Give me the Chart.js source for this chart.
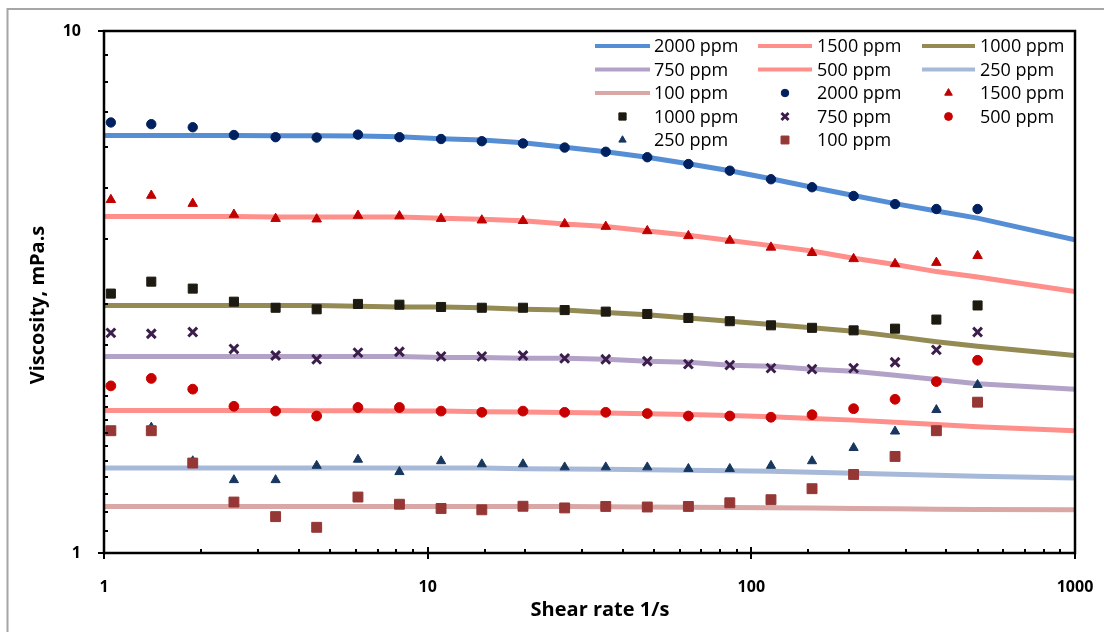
<!DOCTYPE html>
<html>
<head>
<meta charset="utf-8">
<script src="https://cdn.jsdelivr.net/npm/chart.js@4/dist/chart.umd.min.js"></script>
<style>
  html, body { margin: 0; padding: 0; background: #ffffff; }
  #wrap { width: 1104px; height: 632px; position: relative; }
</style>
</head>
<body>
<div id="wrap"><canvas id="c" width="1104" height="632"></canvas></div>
<script>
// ---------- DATA ----------
const seriesNames = ['2000 ppm', '1500 ppm', '1000 ppm', '750 ppm', '500 ppm', '250 ppm', '100 ppm'];

// measured shear rates (1/s)
const shearRate = [1.05, 1.40, 1.88, 2.52, 3.39, 4.54, 6.09, 8.18, 11.0, 14.7, 19.7,
                   26.5, 35.5, 47.7, 63.9, 85.8, 115, 154, 207, 278, 373, 500];
// shear rates of the fitted model curves
const fitRate = [1, 1.05, 1.40, 1.88, 2.52, 3.39, 4.54, 6.09, 8.18, 11.0, 14.7, 19.7,
                 26.5, 35.5, 47.7, 63.9, 85.8, 115, 154, 207, 278, 373, 500, 1000];

// fitted model viscosity (mPa.s)
const fit2000 = [6.31, 6.31, 6.31, 6.31, 6.31, 6.30, 6.30, 6.29, 6.27, 6.22, 6.18, 6.11,
                 5.99, 5.87, 5.73, 5.57, 5.40, 5.21, 5.02, 4.84, 4.67, 4.52, 4.38, 3.98];
const fit1500 = [4.41, 4.41, 4.41, 4.41, 4.41, 4.40, 4.40, 4.40, 4.40, 4.38, 4.36, 4.33,
                 4.27, 4.22, 4.14, 4.06, 3.97, 3.88, 3.79, 3.67, 3.57, 3.46, 3.38, 3.17];
const fit1000 = [2.98, 2.98, 2.98, 2.98, 2.98, 2.98, 2.98, 2.97, 2.96, 2.96, 2.95, 2.93,
                 2.92, 2.89, 2.86, 2.82, 2.78, 2.74, 2.70, 2.66, 2.60, 2.54, 2.49, 2.39];
const fit750  = [2.38, 2.38, 2.38, 2.38, 2.38, 2.38, 2.38, 2.38, 2.38, 2.37, 2.37, 2.36,
                 2.36, 2.35, 2.33, 2.32, 2.29, 2.28, 2.25, 2.23, 2.19, 2.15, 2.11, 2.06];
const fit500  = [1.874, 1.874, 1.874, 1.874, 1.874, 1.874, 1.873, 1.872, 1.871, 1.870, 1.865, 1.863,
                 1.859, 1.855, 1.849, 1.842, 1.834, 1.824, 1.810, 1.797, 1.781, 1.762, 1.746, 1.715];
const fit250  = [1.455, 1.455, 1.455, 1.455, 1.455, 1.455, 1.455, 1.455, 1.455, 1.455, 1.455, 1.450,
                 1.449, 1.447, 1.444, 1.441, 1.437, 1.434, 1.428, 1.422, 1.415, 1.409, 1.403, 1.392];
const fit100  = [1.228, 1.228, 1.228, 1.228, 1.228, 1.228, 1.228, 1.228, 1.228, 1.228, 1.228, 1.228,
                 1.227, 1.226, 1.225, 1.224, 1.222, 1.221, 1.219, 1.217, 1.215, 1.213, 1.212, 1.210];

// measured viscosity (mPa.s)
const meas2000 = [6.68, 6.63, 6.54, 6.32, 6.26, 6.25, 6.33, 6.26, 6.21, 6.15, 6.09,
                  5.98, 5.87, 5.73, 5.56, 5.40, 5.20, 5.02, 4.83, 4.66, 4.56, 4.56];
const meas1500 = [4.75, 4.84, 4.67, 4.45, 4.37, 4.36, 4.43, 4.42, 4.37, 4.34, 4.33,
                  4.27, 4.22, 4.14, 4.05, 3.97, 3.85, 3.76, 3.66, 3.58, 3.60, 3.71];
const meas1000 = [3.14, 3.31, 3.21, 3.03, 2.95, 2.93, 3.00, 2.99, 2.96, 2.95, 2.95,
                  2.92, 2.90, 2.87, 2.82, 2.78, 2.73, 2.70, 2.67, 2.69, 2.80, 2.98];
const meas750  = [2.64, 2.63, 2.65, 2.46, 2.39, 2.35, 2.42, 2.43, 2.38, 2.38, 2.39,
                  2.36, 2.35, 2.33, 2.30, 2.29, 2.26, 2.25, 2.26, 2.32, 2.45, 2.65];
const meas500  = [2.09, 2.16, 2.06, 1.91, 1.87, 1.83, 1.90, 1.90, 1.87, 1.86, 1.87,
                  1.86, 1.86, 1.85, 1.83, 1.83, 1.82, 1.84, 1.89, 1.97, 2.13, 2.34];
const meas250  = [1.71, 1.74, 1.50, 1.38, 1.38, 1.47, 1.51, 1.43, 1.50, 1.48, 1.48,
                  1.46, 1.46, 1.46, 1.45, 1.45, 1.47, 1.50, 1.59, 1.71, 1.88, 2.10];
const meas100  = [1.715, 1.715, 1.487, 1.252, 1.174, 1.120, 1.280, 1.240, 1.217, 1.210, 1.229,
                  1.220, 1.228, 1.225, 1.228, 1.248, 1.265, 1.328, 1.414, 1.531, 1.715, 1.945];

// axis tick labels / titles
const xTickLabels = ['1', '10', '100', '1000'];
const yTickLabels = ['1', '10'];
const xTitle = 'Shear rate 1/s';
const yTitle = 'Viscosity, mPa.s';

// ---------- STYLES ----------
const fitSeries  = [fit2000, fit1500, fit1000, fit750, fit500, fit250, fit100];
const measSeries = [meas2000, meas1500, meas1000, meas750, meas500, meas250, meas100];
const lineColors = ['#558ED5', '#FF8F8A', '#948A54', '#B3A2C7', '#FF8F8A', '#A6B9D9', '#D9A7A6'];
const markStyle = [
  { s: 'circle',   r: 4.7, c: '#002060', bw: 1 },
  { s: 'triangle', r: 5.5, c: '#C00000', bw: 1 },
  { s: 'rect',     r: 6.4, c: '#1D1B11', bw: 1 },
  { s: 'crossRot', r: 6.2, c: '#3B1E4C', bw: 3 },
  { s: 'circle',   r: 4.9, c: '#C80000', bw: 1 },
  { s: 'triangle', r: 5.3, c: '#17375E', bw: 1 },
  { s: 'rect',     r: 7.0, c: '#953735', bw: 1 }
];

const toXY = (xs, ys) => xs.map((x, i) => ({ x: x, y: ys[i] }));

const datasets = [];
seriesNames.forEach((name, i) => {
  datasets.push({
    label: name, kind: 'line',
    data: toXY(fitRate, fitSeries[i]),
    showLine: true, borderColor: lineColors[i], backgroundColor: lineColors[i],
    borderWidth: 5, pointRadius: 0, pointHoverRadius: 0, tension: 0, fill: false,
    borderCapStyle: 'butt', order: 30 - i
  });
});
seriesNames.forEach((name, i) => {
  const m = markStyle[i];
  datasets.push({
    label: name, kind: 'mark',
    data: toXY(shearRate, measSeries[i]),
    showLine: false, pointStyle: m.s, pointRadius: m.r, pointHoverRadius: m.r,
    backgroundColor: m.c, borderColor: m.c, pointBorderWidth: m.bw, order: 7 - i
  });
});

const isPow10 = v => { const l = Math.log10(v); return Math.abs(l - Math.round(l)) < 1e-9; };

function drawMarker(ctx, style, r, bw, color, x, y) {
  ctx.save();
  ctx.fillStyle = color; ctx.strokeStyle = color; ctx.lineWidth = bw;
  if (Chart.helpers && Chart.helpers.drawPoint) {
    Chart.helpers.drawPoint(ctx, { pointStyle: style, radius: r, borderWidth: bw, rotation: 0 }, x, y);
  } else {
    ctx.beginPath();
    if (style === 'circle') { ctx.arc(x, y, r, 0, Math.PI * 2); ctx.fill(); }
    else if (style === 'rect') { const s = r * Math.SQRT1_2; ctx.fillRect(x - s, y - s, 2 * s, 2 * s); }
    else if (style === 'triangle') {
      ctx.moveTo(x, y - r); ctx.lineTo(x + r * 0.866, y + r / 2); ctx.lineTo(x - r * 0.866, y + r / 2);
      ctx.closePath(); ctx.fill();
    } else { const d = r * Math.SQRT1_2;
      ctx.moveTo(x - d, y - d); ctx.lineTo(x + d, y + d); ctx.moveTo(x + d, y - d); ctx.lineTo(x - d, y + d); ctx.stroke(); }
  }
  ctx.restore();
}

const decorPlugin = {
  id: 'decor',
  beforeDraw(chart) {
    const ctx = chart.ctx;
    ctx.save();
    ctx.strokeStyle = '#A6A6A6'; ctx.lineWidth = 2;
    ctx.beginPath(); ctx.moveTo(7.5, 632); ctx.lineTo(7.5, 9); ctx.lineTo(1104, 9); ctx.stroke();
    ctx.restore();
  },
  afterDraw(chart) {
    const { ctx, chartArea: a, scales } = chart;
    const xs = scales.x, ys = scales.y;
    ctx.save();
    // plot frame
    ctx.strokeStyle = '#000'; ctx.lineWidth = 2.5;
    ctx.strokeRect(a.left, a.top, a.right - a.left, a.bottom - a.top);
    // tick marks (minor inside, major crossing)
    ctx.lineWidth = 2;
    ctx.beginPath();
    xs.ticks.forEach(t => {
      const px = Math.round(xs.getPixelForValue(t.value));
      if (isPow10(t.value)) { ctx.moveTo(px, a.bottom - 6); ctx.lineTo(px, a.bottom + 6); }
      else { ctx.moveTo(px, a.bottom); ctx.lineTo(px, a.bottom - 4); }
    });
    ys.ticks.forEach(t => {
      const py = Math.round(ys.getPixelForValue(t.value));
      if (isPow10(t.value)) { ctx.moveTo(a.left - 6, py); ctx.lineTo(a.left + 6, py); }
      else { ctx.moveTo(a.left, py); ctx.lineTo(a.left + 4, py); }
    });
    ctx.stroke();
    // axis titles
    ctx.fillStyle = '#000';
    ctx.font = 'bold 20px "Open Sans"';
    ctx.textAlign = 'center'; ctx.textBaseline = 'middle';
    ctx.fillText(xTitle, 600, 610);
    ctx.save(); ctx.translate(38, 305); ctx.rotate(-Math.PI / 2); ctx.fillText(yTitle, 0, 0); ctx.restore();
    // legend (3 columns, row-major in series order)
    const colLine = [[595, 650], [758, 812], [922, 975]];
    const colText = [654, 817, 980];
    const rowY = [46, 69.5, 93, 116.5, 140];
    ctx.font = '18px "Open Sans"'; ctx.textAlign = 'left'; ctx.textBaseline = 'middle';
    chart.data.datasets.forEach((ds, idx) => {
      const row = Math.floor(idx / 3), col = idx % 3;
      const y = rowY[row];
      const [x1, x2] = colLine[col];
      if (ds.kind === 'line') {
        ctx.save(); ctx.strokeStyle = ds.borderColor; ctx.lineWidth = 4; ctx.lineCap = 'butt';
        ctx.beginPath(); ctx.moveTo(x1, y); ctx.lineTo(x2, y); ctx.stroke(); ctx.restore();
      } else {
        drawMarker(ctx, ds.pointStyle, ds.pointRadius * 0.8, ds.pointBorderWidth, ds.backgroundColor, (x1 + x2) / 2, y);
      }
      ctx.fillStyle = '#000';
      ctx.fillText(ds.label, colText[col], y + 1);
    });
    ctx.restore();
  }
};

const tickFont = { family: '"Open Sans"', size: 16, weight: 'bold' };

new Chart(document.getElementById('c'), {
  type: 'scatter',
  data: { datasets: datasets },
  options: {
    responsive: false, animation: false, devicePixelRatio: 1,
    layout: { padding: { left: 0, right: 29, top: 31, bottom: 0 } },
    plugins: { legend: { display: false }, tooltip: { enabled: false } },
    events: [],
    scales: {
      x: {
        type: 'logarithmic', min: 1, max: 1000,
        grid: { display: false, drawTicks: false },
        border: { display: false },
        ticks: {
          autoSkip: false, maxRotation: 0, padding: 25, color: '#000', font: tickFont,
          callback: v => (isPow10(v) && xTickLabels.includes(String(Math.round(v)))) ? String(Math.round(v)) : ''
        },
        afterFit: s => { s.height = 79; s.paddingLeft = 0; s.paddingRight = 0; }
      },
      y: {
        type: 'logarithmic', min: 1, max: 10,
        grid: { display: false, drawTicks: false },
        border: { display: false },
        ticks: {
          autoSkip: false, padding: 23, color: '#000', font: tickFont,
          callback: v => (isPow10(v) && yTickLabels.includes(String(Math.round(v)))) ? String(Math.round(v)) : ''
        },
        afterFit: s => { s.width = 104; s.paddingTop = 0; s.paddingBottom = 0; }
      }
    }
  },
  plugins: [decorPlugin]
});
</script>
</body>
</html>
